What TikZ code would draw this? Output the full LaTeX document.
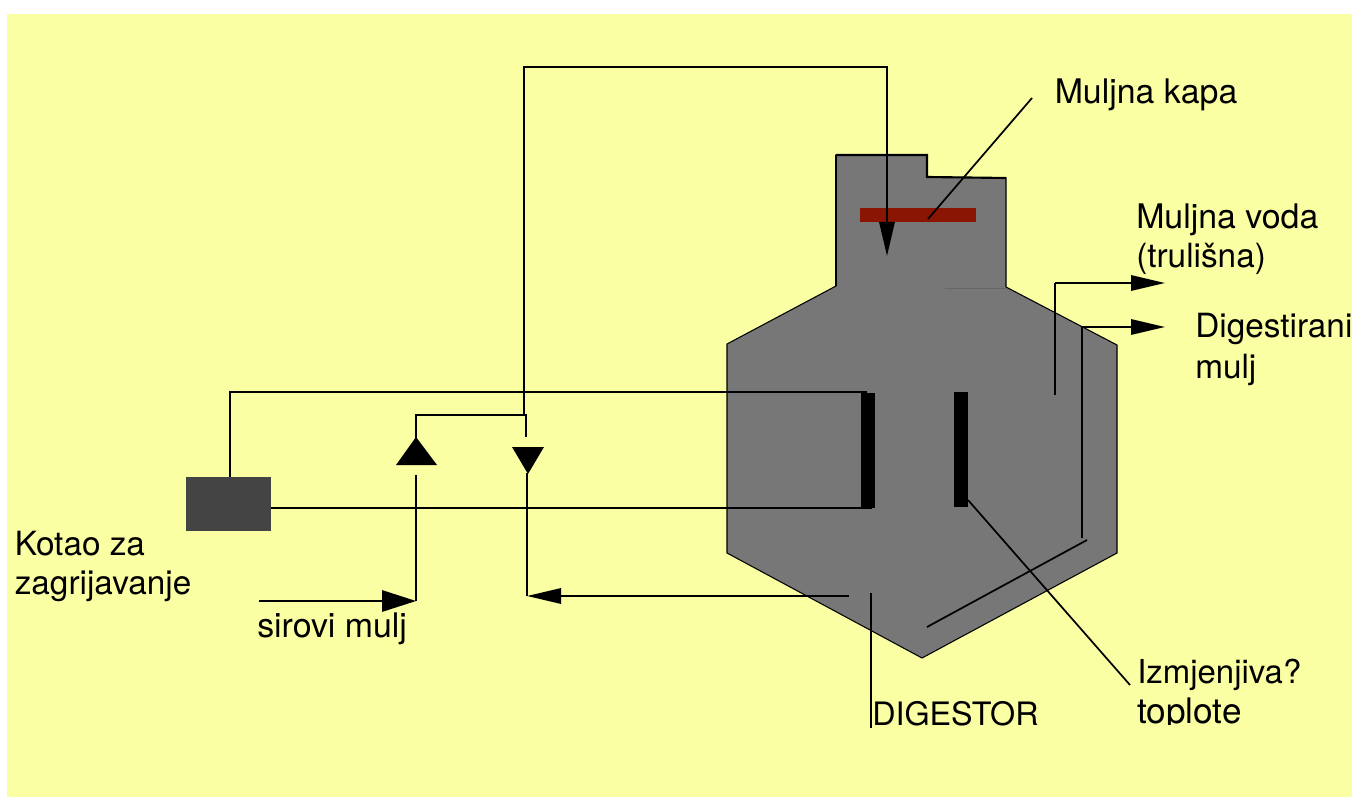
\documentclass[tikz,border=0pt]{standalone}
\usepackage{fontspec}
\setmainfont{TeX Gyre Heros}
\usetikzlibrary{arrows.meta}
\definecolor{paper}{HTML}{FBFFA3}
\definecolor{tank}{HTML}{777777}
\definecolor{boilerc}{HTML}{444444}
\definecolor{capc}{HTML}{8A1503}
\tikzset{
  lbl/.style={anchor=base west,inner sep=0pt,font=\fontsize{25}{30}\selectfont,text=black},
  lblsmall/.style={lbl,font=\fontsize{24.2}{30}\selectfont},
  lblmid/.style={lbl,font=\fontsize{24.7}{30}\selectfont},
  lblwide/.style={lbl,font=\fontsize{25.4}{30}\selectfont},
  lblwider/.style={lbl,font=\fontsize{26.4}{30}\selectfont},
  pipe/.style={draw=black,line width=1.6pt},
  thin pipe/.style={draw=black,line width=1.3pt},
  bigarrow/.style={pipe,-{Triangle[length=25.5pt,width=16pt]}},
  smallarrow/.style={pipe,-{Triangle[length=25.5pt,width=11.5pt]}},
  bar/.style={fill=black,inner sep=0pt,minimum width=10.5pt,minimum height=86pt},
}
\begin{document}
\begin{tikzpicture}[x=0.75pt,y=-0.75pt]
\useasboundingbox (0,0) rectangle (1352,798);
\fill[white] (0,0) rectangle (1352,798);
\fill[paper] (7,14) rectangle (1352,797);
% tank
\draw[fill=tank,draw=black,line width=0.8pt]
  (836,155) -- (927,155) -- (927,177) -- (1006,178) -- (1006,287) -- (1117,345) -- (1117,553)
  -- (922,658) -- (727,553) -- (727,344) -- (836,286) -- cycle;
\draw[pipe] (836,155) -- (927,155) -- (927,177) -- (1006,178);
\draw[pipe] (836,155) -- (836,286);
\draw[black!60,line width=0.6pt] (945,288) -- (1006,288);
% named elements
\node[fill=capc,inner sep=0pt,minimum width=87pt,minimum height=10.5pt] (cap) at (918,215) {};
\node[fill=boilerc,inner sep=0pt,minimum width=63.75pt,minimum height=40.5pt] (boiler) at (228.5,504) {};
\node[bar] (barL) at (868,450.5) {};
\node[bar] (barR) at (961,449.5) {};
% labels
\node[lblwide] (tkapa) at (1054.5,103.5) {Muljna kapa};
\node[lblwide] (tvoda) at (1136,228.5) {Muljna voda};
\node[lbl] (ttrul) at (1136,267.5) {(trulišna)};
\node[lbl] (tdig) at (1195,337.5) {Digestirani};
\node[lbl] (tmulj) at (1195,378.5) {mulj};
\node[lbl] (tkot) at (14.5,555) {Kotao za};
\node[lbl] (tzag) at (14.5,594) {zagrijavanje};
\node[lblwide] (tsir) at (257,637) {sirovi mulj};
\node[lblsmall] (tdgs) at (872,725) {DIGESTOR};
\node[lblmid] (tizm) at (1137,683) {Izmjenjiva?};
\begin{scope}
  \clip (1130,690) rectangle (1300,724);
  \node[lblwider] (ttop) at (1137,723.5) {toplote};
\end{scope}
% junctions
\coordinate (j1) at (524,415);
\coordinate (j2) at (524,67);
\coordinate (j3) at (887,67);
\coordinate (a1) at (887,256);
\coordinate (b1) at (230,477);
\coordinate (b2) at (230,392);
\coordinate (b3) at (867,392);
\coordinate (b4) at (271,508);
\coordinate (b5) at (872,508);
\coordinate (u1) at (416,438);
\coordinate (u2) at (416,415);
\coordinate (u3) at (526,415);
\coordinate (u4) at (526,437);
\coordinate (u5) at (416,475);
\coordinate (u6) at (416,601);
\coordinate (s1) at (259,601);
\coordinate (d1) at (527,473);
\coordinate (d2) at (527,596);
\coordinate (d3) at (849,596);
\coordinate (m1) at (1055,395);
\coordinate (m2) at (1055,283);
\coordinate (m3) at (1165,283);
\coordinate (g1) at (1082,538);
\coordinate (g2) at (1082,327);
\coordinate (g3) at (1165,327);
\coordinate (g4) at (1087,540);
\coordinate (g5) at (927,627);
\coordinate (k1) at (1032,98);
\coordinate (k2) at (928,219);
\coordinate (i1) at (968,500);
\coordinate (i2) at (1130,685);
\coordinate (t1) at (871,593);
\coordinate (t2) at (871,728);
% connectors
\draw[smallarrow] (j1) -- (j2) -- (j3) -- (a1);
\draw[pipe] (b1) -- (b2) -- (b3);
\draw[pipe] (b4) -- (b5);
\draw[pipe] (u1) -- (u2) -- (u3) -- (u4);
\draw[pipe] (u5) -- (u6);
\draw[bigarrow] (s1) -- (u6);
\draw[pipe] (d1) -- (d2);
\draw[smallarrow] (d3) -- (d2);
\draw[pipe] (m1) -- (m2);
\draw[smallarrow] (m2) -- (m3);
\draw[thin pipe] (g1) -- (g2);
\draw[smallarrow] (g2) -- (g3);
\draw[thin pipe] (g4) -- (g5);
\draw[thin pipe] (k1) -- (k2);
\draw[thin pipe] (i1) -- (i2);
\draw[thin pipe] (t1) -- (t2);
% check-valve triangles
\fill[black] (416,437) -- (437,465) -- (396,465) -- cycle;
\fill[black] (512,447) -- (544,447) -- (528,474) -- cycle;
\end{tikzpicture}
\end{document}
